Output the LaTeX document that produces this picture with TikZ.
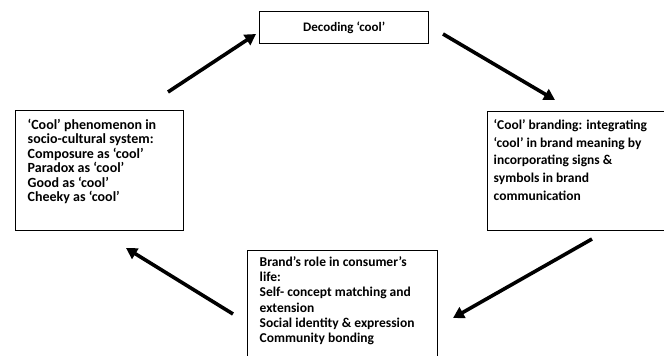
\documentclass[tikz,border=0pt]{standalone}
\usepackage{fontspec}
\setmainfont{Carlito}
\usetikzlibrary{arrows.meta}
\tikzset{
  box/.style={draw=black, line width=1.4pt, inner sep=0pt, anchor=north west, font=\fontsize{13.5}{15}\selectfont\bfseries},
  flow/.style={line width=3.6pt, -{Triangle[length=11pt,width=12pt]}},
}
\newcommand{\boxtext}[4]{\begin{minipage}[c][#2][t]{#1}\hspace*{#3}\begin{minipage}[t]{\dimexpr#1-#3\relax}\raggedright #4\end{minipage}\end{minipage}}
\begin{document}
\begin{tikzpicture}[x=1pt,y=-1pt]
  \useasboundingbox[fill=white] (0,0) rectangle (664,356);

  % top box
  \node[box, minimum width=169pt, minimum height=32pt] (dec) at (259,11) {};
  \node[font=\fontsize{13}{15}\selectfont\bfseries] (dectext) at (dec.center) {Decoding ‘cool’};

  % left box
  \node[box, font=\fontsize{14}{15}\selectfont\bfseries] (soc) at (15,110) {\boxtext{168pt}{120pt}{12pt}{\baselineskip=14.5pt\vspace*{8pt}%
    ‘Cool’ phenomenon in\\ socio-cultural system:\\ Composure as ‘cool’\\ Paradox as ‘cool’\\ Good as ‘cool’\\ Cheeky as ‘cool’}};

  % right box
  \node[box] (brand) at (487,111) {\boxtext{182pt}{119pt}{6pt}{\baselineskip=17.6pt\vspace*{8pt}%
    ‘Cool’ branding: integrating\\ ‘cool’ in brand meaning by\\ incorporating signs \&\\ symbols in brand\\ communication}};

  % bottom box
  \node[box] (life) at (247,250) {\boxtext{190pt}{120pt}{12pt}{\baselineskip=15.2pt\vspace*{6pt}%
    Brand’s role in consumer’s\\ life:\\ Self- concept matching and\\ extension\\ Social identity \& expression\\ Community bonding}};

  % arrow ends
  \coordinate (a1) at (168,92);
  \coordinate (b1) at (256,34);
  \coordinate (a2) at (443,34);
  \coordinate (b2) at (555,100);
  \coordinate (a3) at (592,239);
  \coordinate (b3) at (453,318);
  \coordinate (a4) at (233,314);
  \coordinate (b4) at (126,248);

  \draw[flow] (a1) -- (b1);
  \draw[flow] (a2) -- (b2);
  \draw[flow] (a3) -- (b3);
  \draw[flow] (a4) -- (b4);
\end{tikzpicture}
\end{document}
